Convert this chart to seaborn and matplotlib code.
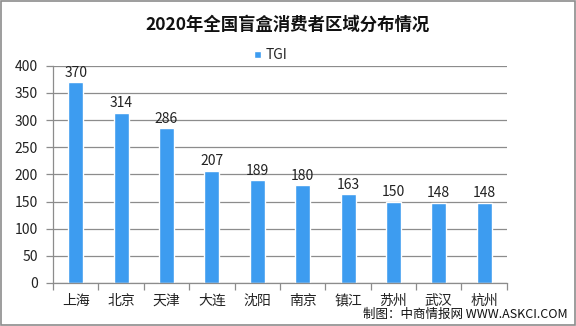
import matplotlib
matplotlib.use("Agg")
import matplotlib.pyplot as plt
import seaborn as sns
import pandas as pd
import numpy as np

cities = ["上海", "北京", "天津", "大连", "沈阳", "南京", "镇江", "苏州", "武汉", "杭州"]
tgi = [370, 314, 286, 207, 189, 180, 163, 150, 148, 148]
yticks = [0, 50, 100, 150, 200, 250, 300, 350, 400]

sns.set_theme(style="white")
plt.rcParams["font.family"] = ["Noto Sans CJK SC", "DejaVu Sans"]

df = pd.DataFrame({"city": cities, "TGI": tgi})

fig = plt.figure(figsize=(5.76, 3.26), dpi=100)
ax = fig.add_axes([0.092, 0.132, 0.788, 0.666])

bar_color = "#3d9cf0"
sns.barplot(data=df, x="city", y="TGI", color=bar_color, width=0.33,
            saturation=1, ax=ax, label="TGI")

ax.set_ylim(0, 400)
ax.set_xlim(-0.5, len(cities) - 0.5)
ax.set_yticks(yticks)
ax.yaxis.grid(True, color="#8c8c8c", linewidth=0.9)
ax.set_axisbelow(True)
ax.set_xlabel("")
ax.set_ylabel("")

for s in ["top", "right"]:
    ax.spines[s].set_visible(False)
for s in ["left", "bottom"]:
    ax.spines[s].set_color("#8c8c8c")
    ax.spines[s].set_linewidth(0.9)

ax.tick_params(axis="y", length=5, color="#8c8c8c", width=0.9,
               labelsize=10, labelcolor="#222222", pad=6, left=True)
ax.tick_params(axis="x", which="major", length=0, labelsize=10,
               labelcolor="#222222", pad=8)
ax.set_xticks(np.arange(-0.5, len(cities), 1.0), minor=True)
ax.tick_params(axis="x", which="minor", length=5, color="#8c8c8c",
               width=0.9, bottom=True)

for i, v in enumerate(tgi):
    ax.text(i, v + 4, str(v), ha="center", va="bottom", fontsize=10,
            color="#222222")

leg = ax.legend(loc="center", bbox_to_anchor=(0.47, 0.83),
                bbox_transform=fig.transFigure, frameon=False,
                fontsize=10, handlelength=0.5, handleheight=0.5,
                handletextpad=0.4)

fig.text(0.5, 0.923, "2020年全国盲盒消费者区域分布情况", ha="center",
         va="center", fontsize=12.5, fontweight="bold", color="#111111")
fig.text(0.985, 0.035, "制图：中商情报网 WWW.ASKCI.COM", ha="right",
         va="center", fontsize=9, color="#111111")

fig.patches.append(plt.Rectangle((0.001, 0.002), 0.997, 0.995,
                                 transform=fig.transFigure, fill=False,
                                 edgecolor="#8c8c8c", linewidth=1.2))

fig.savefig("out.png", dpi=100)
